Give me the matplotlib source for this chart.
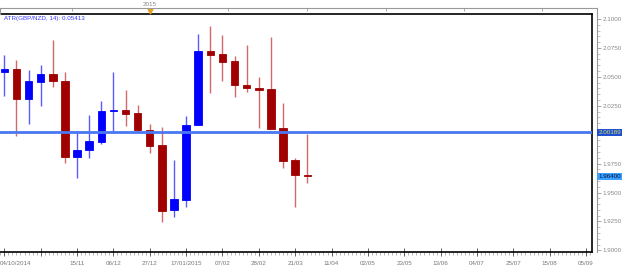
import matplotlib
matplotlib.use("Agg")
import matplotlib.pyplot as plt
from matplotlib.ticker import MultipleLocator, FixedLocator
from matplotlib.transforms import ScaledTranslation
import numpy as np

# Weekly GBP/NZD candles, week 0 = 04/10/2014
opens = [2.0542, 2.0568, 2.0309, 2.0455, 2.0525, 2.0464, 1.9807, 1.9868, 1.9937, 2.0205,
         2.0213, 2.0188, 2.0041, 1.9911, 1.9349, 1.9436, 2.0084, 2.0723, 2.0697, 2.0637,
         2.0430, 2.0404, 2.0395, 2.0058, 1.9781, 1.9652]
highs = [2.0689, 2.0646, 2.0559, 2.0602, 2.0818, 2.0542, 2.0030, 2.0170, 2.0291, 2.0542,
         2.0386, 2.0257, 2.0092, 2.0067, 1.9781, 2.0162, 2.0870, 2.0940, 2.0862, 2.0680,
         2.0775, 2.0499, 2.0844, 2.0274, 1.9799, 2.0005]
lows = [2.0334, 1.9989, 2.0092, 2.0248, 2.0412, 1.9755, 1.9626, 1.9799, 1.9920, 2.0015,
        2.0075, 2.0023, 1.9842, 1.9245, 1.9289, 1.9375, 2.0084, 2.0360, 2.0464, 2.0326,
        2.0369, 2.0058, 2.0049, 1.9712, 1.9375, 1.9583]
closes = [2.0568, 2.0309, 2.0464, 2.0525, 2.0464, 1.9807, 1.9868, 1.9946, 2.0205, 2.0213,
          2.0179, 2.0041, 1.9902, 1.9341, 1.9444, 2.0084, 2.0723, 2.0689, 2.0628, 2.0430,
          2.0404, 2.0386, 2.0049, 1.9773, 1.9652, 1.9640]

date_ticks = [0, 3, 6, 9, 12, 15, 18, 21, 24, 27, 30, 33, 36, 39, 42, 45, 48]
date_labels = ["04/10/2014", "", "15/11", "06/12", "27/12", "17/01/2015", "07/02", "28/02",
               "21/03", "11/04", "02/05", "23/05", "13/06", "04/07", "25/07", "15/08", "05/09"]
price_ticks = [1.9000, 1.9250, 1.9500, 1.9750, 2.0000, 2.0250, 2.0500, 2.0750, 2.1000]
line_level = 2.00189
last_price = 1.96400
nav_ticks = [72, 150, 228, 307, 386, 464, 542]

FONT = "Liberation Sans"
FS = 4.5
plt.rcParams["font.family"] = [FONT, "DejaVu Sans"]

fig = plt.figure(figsize=(6.25, 2.7), dpi=100)
W, H = 625.0, 270.0
ax = fig.add_axes([0, 18 / H, 592 / W, 238 / H])

x = np.arange(len(opens))
o = np.array(opens)
c = np.array(closes)
up = c >= o
body_col = np.where(up, "#0000ff", "#a00000")
wick_col = np.where(up, "#5a5aff", "#d06a6a")

ax.vlines(x, lows, highs, colors=wick_col, linewidth=1.0, zorder=1)
ax.bar(x, c - o, bottom=o, width=0.62, color=body_col, edgecolor=body_col,
       linewidth=0.6, zorder=2)
ax.axhline(line_level, color="#4a78f2", linewidth=2.0, zorder=3)

ax.set_xlim(-0.355, 48.49)
ax.set_ylim(1.8986, 2.1043)

ax.spines["left"].set_visible(False)
for side in ["top", "right", "bottom"]:
    ax.spines[side].set_color("black")
    ax.spines[side].set_linewidth(1.2)

ax.set_yticks([])
ax.set_xticks(date_ticks)
ax.set_xticklabels(date_labels)
ax.xaxis.set_minor_locator(MultipleLocator(1 / 3))
ax.tick_params(axis="x", which="major", direction="inout", length=6, width=0.6,
               color="#444444", labelsize=FS, labelcolor="#777777", pad=3.5)
ax.tick_params(axis="x", which="minor", direction="out", length=2.5, width=0.5,
               color="#999999")
# first date label sits flush with the left edge
first = ax.get_xticklabels()[0]
first.set_horizontalalignment("left")
first.set_transform(first.get_transform() + ScaledTranslation(-4.3 / 100, 0, fig.dpi_scale_trans))

ax.text(0.007, 0.99, "ATR(GBP/NZD, 14): 0.05413", transform=ax.transAxes,
        ha="left", va="top", fontsize=FS, color="#3a3aff")

# right price scale
twin = ax.twinx()
twin.set_ylim(ax.get_ylim())
for side in ["left", "top", "bottom"]:
    twin.spines[side].set_visible(False)
twin.spines["right"].set_position(("outward", 3.6))
twin.spines["right"].set_color("#999999")
twin.spines["right"].set_linewidth(0.8)
twin.yaxis.set_major_locator(FixedLocator(price_ticks))
twin.yaxis.set_minor_locator(MultipleLocator(0.005))
# 2.0000 is covered by the line-level marker
twin.set_yticklabels(["" if abs(p - line_level) < 0.01 else f"{p:.4f}" for p in price_ticks])
twin.tick_params(axis="y", which="major", direction="out", length=3, width=0.6,
                 color="#999999", labelsize=FS, labelcolor="#888888", pad=0.8)
twin.tick_params(axis="y", which="minor", direction="out", length=1.8, width=0.5,
                 color="#aaaaaa")

twin.annotate(f"{line_level:.5f}", xy=(1, line_level), xycoords=("axes fraction", "data"),
              xytext=(4.6, 0), textcoords="offset points", ha="left", va="center",
              fontsize=FS, color="#d8e060",
              bbox=dict(boxstyle="square,pad=0.15", fc="#2050d0", ec="none"))
twin.annotate(f"{last_price:.5f}", xy=(1, last_price), xycoords=("axes fraction", "data"),
              xytext=(4.6, 0), textcoords="offset points", ha="left", va="center",
              fontsize=FS, color="#001040",
              bbox=dict(boxstyle="square,pad=0.15", fc="#3aa0ff", ec="none"))

# navigator strip on top
nav = fig.add_axes([0, (H - 14) / H, 597 / W, 6 / H])
nav.set_xlim(0, 597)
nav.set_ylim(0, 1)
nav.patch.set_alpha(0)
nav.spines["bottom"].set_visible(False)
for side in ["top", "left", "right"]:
    nav.spines[side].set_color("#999999")
    nav.spines[side].set_linewidth(0.8)
nav.set_yticks([])
nav.xaxis.tick_top()
nav.set_xticks(nav_ticks)
nav.set_xticklabels([])
nav.tick_params(axis="x", direction="in", length=2, width=0.6, color="#999999")
nav.text(nav_ticks[1], 1.15, "2015", ha="center", va="bottom", fontsize=FS,
         color="#888888", transform=nav.get_xaxis_transform())
nav.plot([nav_ticks[1]], [0.5], marker="v", color="#e8a020", markersize=3.5,
         linestyle="none")

fig.savefig("out.png", dpi=100)
